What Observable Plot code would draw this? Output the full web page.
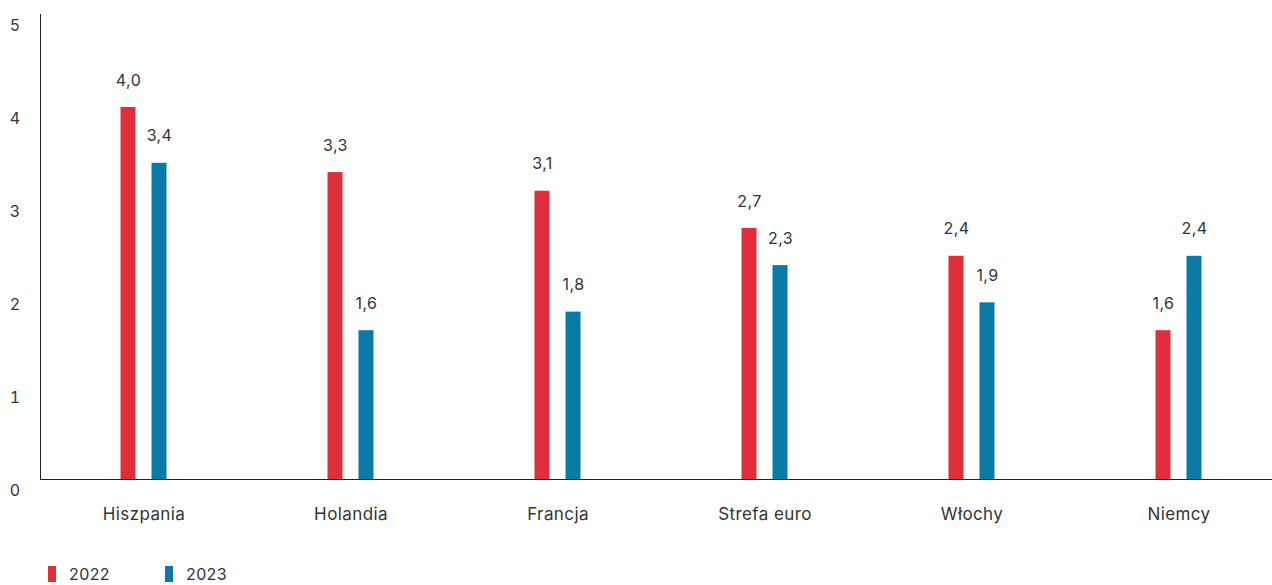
<!DOCTYPE html>
<html><head><meta charset="utf-8">
<script src="https://cdn.jsdelivr.net/npm/d3@7"></script>
<script src="https://cdn.jsdelivr.net/npm/@observablehq/plot@0.6"></script>
<style>
body{margin:0;background:#fff;font-family:Inter, sans-serif;}
#legend{display:flex;align-items:center;margin-top:16px;padding-left:48px;font-size:16px;color:#333;height:16px;letter-spacing:0.4px}
.item{display:flex;align-items:center;margin-right:55px}
.sw{width:8px;height:16px;margin-right:13px}
</style></head><body><div id="chart"></div><div id="legend"></div>
<script>
const categories = ["Hiszpania", "Holandia", "Francja", "Strefa euro", "Włochy", "Niemcy"];
const values2022 = [4.0, 3.3, 3.1, 2.7, 2.4, 1.6];
const values2023 = [3.4, 1.6, 1.8, 2.3, 1.9, 2.4];
const series = ["2022", "2023"];
const colors = ["#df2d3a", "#0a7ba7"];
const yTicks = [0, 1, 2, 3, 4, 5];

const seriesValues = [values2022, values2023];
const rows = series.flatMap((s, i) => categories.map((c, j) => ({category: c, year: s, value: seriesValues[i][j]})));
const fmt = v => d3.format(".1f")(v).replace(".", ",");

const W = 1272, H = 550;
const offset = 15.5;
const marks = [];
series.forEach((s, i) => {
  const data = rows.filter(r => r.year === s);
  const dx = i === 0 ? -offset : offset;
  marks.push(Plot.barY(data, {x: "category", y: "value", fill: colors[i], insetLeft: 96, insetRight: 96, dx}));
  marks.push(Plot.text(data, {x: "category", y: "value", text: d => fmt(d.value), dx, dy: -27, fontSize: 16, fill: "#333"}));
});

const chart = Plot.plot({
  width: W,
  height: H,
  marginLeft: 40,
  marginRight: 0,
  marginTop: 14,
  marginBottom: H - 479,
  style: {fontFamily: "Inter, sans-serif", color: "#333", background: "#fff", letterSpacing: "0.4px"},
  x: {domain: categories, range: [40, 1282], padding: 0},
  y: {domain: [0, 5]},
  marks: [
    Plot.axisX({tickSize: 0, tickPadding: 28, fontSize: 17, label: null}),
    Plot.axisY(yTicks, {tickSize: 0, tickPadding: 20, dy: 11.5, fontSize: 16, label: null, tickFormat: d => d}),
    ...marks,
    Plot.ruleY([0], {stroke: "#222"}),
    Plot.frame({anchor: "left", stroke: "#222"})
  ]
});
document.getElementById("chart").appendChild(chart);

const legend = document.getElementById("legend");
series.forEach((s, i) => {
  const item = document.createElement("div");
  item.className = "item";
  const sw = document.createElement("div");
  sw.className = "sw";
  sw.style.background = colors[i];
  const t = document.createElement("span");
  t.textContent = s;
  item.appendChild(sw); item.appendChild(t);
  legend.appendChild(item);
});
</script></body></html>
